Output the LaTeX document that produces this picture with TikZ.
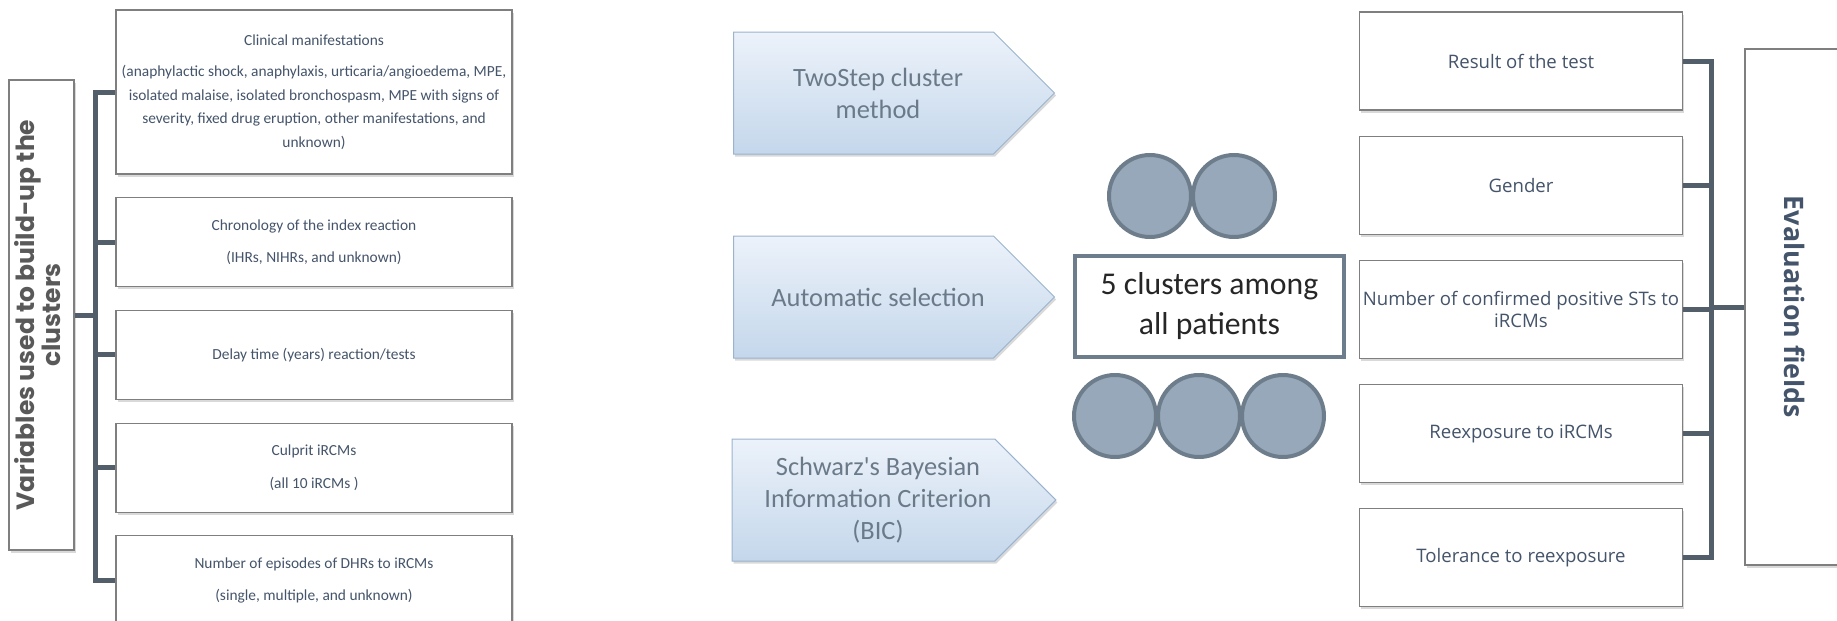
\documentclass[tikz,border=0pt]{standalone}
\usepackage{fontspec}
\setmainfont{Carlito}
\newfontfamily\opensans{Open Sans}
\newfontfamily\poppins{Poppins}
\usepackage{graphicx}
\usetikzlibrary{positioning, shapes.symbols, shadows}

\definecolor{txtgray}{HTML}{44546A}
\definecolor{boxline}{HTML}{7F7F7F}
\definecolor{linkgray}{HTML}{525E69}
\definecolor{slate}{HTML}{6E7D8B}
\definecolor{clfill}{HTML}{97A8BA}
\definecolor{arrtop}{HTML}{ECF2FA}
\definecolor{arrbot}{HTML}{C4D7EB}
\definecolor{arrline}{HTML}{9BB3CE}
\definecolor{arrtxt}{HTML}{6B7A89}
\definecolor{ttlgray}{HTML}{595959}

% shifts a centred line to the right inside the method arrows
\newcommand{\mshift}{\hspace*{29pt}}

\tikzset{
  field/.style={draw=boxline, line width=1.2pt, fill=white, text=txtgray, align=center,
    drop shadow={shadow xshift=1.5pt, shadow yshift=-2.5pt, opacity=.3}},
  varbox/.style={field, minimum width=396pt, minimum height=89pt,
    font=\fontsize{15.4}{23.5}\selectfont},
  evalbox/.style={field, minimum width=323pt, minimum height=98pt, inner xsep=0pt,
    font=\opensans\fontsize{18.6}{22}\selectfont},
  method/.style={signal, signal to=east, signal pointer angle=90, draw=arrline,
    line width=1pt, top color=arrtop, bottom color=arrbot, text=arrtxt,
    minimum width=321pt, minimum height=122pt, align=center,
    font=\fontsize{26.4}{32}\selectfont,
    drop shadow={shadow xshift=1.5pt, shadow yshift=-2.5pt, opacity=.3}},
  cluster/.style={circle, draw=slate, line width=4pt, fill=clfill,
    minimum size=82pt, inner sep=0pt},
  link/.style={draw=linkgray, line width=5pt}
}

\begin{document}
\begin{tikzpicture}[x=1pt, y=-1pt]
  \useasboundingbox (0,0) rectangle (1837,621);

  % variables used for the clustering
  \node[field, minimum width=65pt, minimum height=470pt, text=ttlgray,
    font=\poppins\bfseries\fontsize{25}{24.5}\selectfont] (vars) at (41.5,315)
    {\rotatebox{90}{\begin{tabular}{@{}c@{}}Variables used to build-up the\\clusters\end{tabular}}};

  \node[varbox, minimum height=164pt] (clin) at (314,92)
    {Clinical manifestations\\[7.5pt](anaphylactic shock, anaphylaxis, urticaria/angioedema, MPE,\\isolated malaise, isolated bronchospasm, MPE with signs of\\severity, fixed drug eruption, other manifestations, and\\unknown)};
  \node[varbox] (chrono) [below=22.5pt of clin] {Chronology of the index reaction\\[8.5pt](IHRs, NIHRs, and unknown)};
  \node[varbox] (delay) [below=22.5pt of chrono] {Delay time (years) reaction/tests};
  \node[varbox] (culprit) [below=22.5pt of delay] {Culprit iRCMs\\[9pt](all 10 iRCMs )};
  \node[varbox] (episodes) [below=22.5pt of culprit] {Number of episodes of DHRs to iRCMs\\[9pt](single, multiple, and unknown)};

  \coordinate[right=21pt of vars.east] (lt);
  \draw[link] (vars.east) -- (lt);
  \draw[link] (clin.west) -| (lt) |- (episodes.west);
  \draw[link] (lt |- chrono.west) -- (chrono.west);
  \draw[link] (lt |- delay.west) -- (delay.west);
  \draw[link] (lt |- culprit.west) -- (culprit.west);

  % methods
  \node[method] (twostep) at (863.5,93) {\mshift TwoStep cluster\\\mshift method};
  \node[method] (autosel) at (863.5,297) {\mshift Automatic selection};
  \node[method] (bic) at (863.5,500) {\mshift Schwarz\textquotesingle s Bayesian\\\mshift Information Criterion\\\mshift (BIC)};

  % clusters
  \node[draw=slate, line width=4.5pt, fill=white, minimum width=269pt, minimum height=101pt,
    font=\fontsize{31.7}{40}\selectfont, text=black!85, align=center] (allpat)
    at (1209.5,306.5) {5 clusters among\\all patients};
  \node[cluster] (cl1) at (1150,196) {};
  \node[cluster] (cl2) [right=-2pt of cl1] {};
  \node[cluster] (cl3) at (1115,416) {};
  \node[cluster] (cl4) [right=-2pt of cl3] {};
  \node[cluster] (cl5) [right=-2pt of cl4] {};

  % evaluation fields
  \node[evalbox] (result) at (1521,61) {Result of the test};
  \node[evalbox] (gender) [below=25pt of result] {Gender};
  \node[evalbox] (positive) [below=25pt of gender] {Number of confirmed positive STs to\\iRCMs};
  \node[evalbox] (reexp) [below=25pt of positive] {Reexposure to iRCMs};
  \node[evalbox] (tolerance) [below=25pt of reexp] {Tolerance to reexposure};

  \node[field, minimum width=100pt, minimum height=516pt,
    font=\opensans\bfseries\fontsize{26.8}{30}\selectfont] (evalf) at (1795,307)
    {\rotatebox{-90}{Evaluation fields}};

  \coordinate[left=33pt of evalf.west] (rt);
  \draw[link] (rt) -- (evalf.west);
  \draw[link] (result.east) -| (rt) |- (tolerance.east);
  \draw[link] (rt |- gender.east) -- (gender.east);
  \draw[link] (rt |- positive.east) -- (positive.east);
  \draw[link] (rt |- reexp.east) -- (reexp.east);
\end{tikzpicture}
\end{document}
